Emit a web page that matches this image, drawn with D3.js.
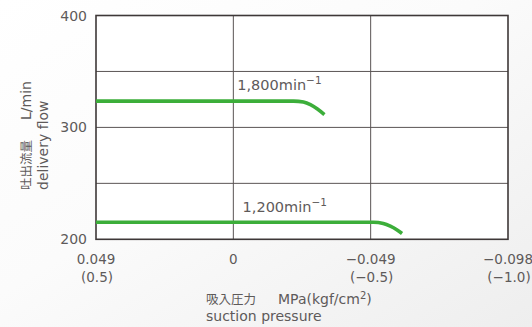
<!DOCTYPE html>
<html><head><meta charset="utf-8">
<script src="https://cdn.jsdelivr.net/npm/d3@7"></script>
<style>
html,body{margin:0;padding:0;background:#fff;}
svg{display:block;font-family:"DejaVu Sans","Noto Sans CJK JP",sans-serif;}
</style></head>
<body><svg id="c" width="532" height="327"></svg>
<script>
const xTicks = [0.049, 0, -0.049, -0.098];
const xTickLabels = ["0.049", "0", "\u22120.049", "\u22120.098"];
const xTickSub = ["(0.5)", "", "(\u22120.5)", "(\u22121.0)"];
const yTicks = [200, 300, 400];
const yGrid = [250, 350];
const series1800 = [[0.049,323.5],[-0.0215,323.5],[-0.025,322.6],[-0.0275,320.3],[-0.030,316.5],[-0.0325,311.5]];
const series1200 = [[0.049,215.3],[-0.050,215.3],[-0.0535,214.2],[-0.0560,211.8],[-0.0583,208.6],[-0.0602,205.2]];
const seriesLabels = [
  {text:"1,800min", at:[-0.0014, 333.4]},
  {text:"1,200min", at:[-0.0033, 224.1]}
];

const svg = d3.select("#c");
const defs = svg.append("defs");
const g0 = defs.append("linearGradient").attr("id","bg").attr("x1","0").attr("y1","0").attr("x2","1").attr("y2","1");
g0.append("stop").attr("offset","0").attr("stop-color","#ffffff");
g0.append("stop").attr("offset","0.45").attr("stop-color","#fbfbfb");
g0.append("stop").attr("offset","1").attr("stop-color","#eeeeee");
svg.append("rect").attr("width",532).attr("height",327).attr("fill","url(#bg)");

const L=96, R=508, T=15.5, B=239.3;
const x = d3.scaleLinear().domain([0.049,-0.098]).range([L,R]);
const y = d3.scaleLinear().domain([200,400]).range([B,T]);
const txt = "#5e5a5a";

svg.append("rect").attr("x",L).attr("y",T).attr("width",R-L).attr("height",B-T).attr("fill","#fff");

const gridColor="#5a5454";
svg.selectAll(".hg").data(yGrid.concat([300])).enter().append("line")
  .attr("x1",L).attr("x2",R).attr("y1",d=>y(d)).attr("y2",d=>y(d))
  .attr("stroke",gridColor).attr("stroke-width",1);
svg.selectAll(".vg").data([0,-0.049]).enter().append("line")
  .attr("x1",d=>x(d)).attr("x2",d=>x(d)).attr("y1",T).attr("y2",B)
  .attr("stroke",gridColor).attr("stroke-width",1);
svg.append("rect").attr("x",L).attr("y",T).attr("width",R-L).attr("height",B-T)
  .attr("fill","none").attr("stroke","#3e3838").attr("stroke-width",1.6);

// y tick labels
svg.selectAll(".yt").data(yTicks).enter().append("text")
  .attr("x",L-9).attr("y",d=>y(d)).attr("dy","0.36em").attr("text-anchor","end")
  .attr("font-size",14).attr("fill",txt).text(d=>d);

// x tick labels
const xt = svg.selectAll(".xt").data(xTicks).enter().append("g");
xt.append("text").attr("x",d=>x(d)).attr("y",264).attr("text-anchor","middle")
  .attr("font-size",13.5).attr("fill",txt).text((d,i)=>xTickLabels[i]);
xt.append("text").attr("x",d=>x(d)+1).attr("y",281.5).attr("text-anchor","middle")
  .attr("font-size",13.5).attr("fill",txt).text((d,i)=>xTickSub[i]);

// lines
const line = d3.line().x(d=>x(d[0])).y(d=>y(d[1])).curve(d3.curveMonotoneX);
[series1800, series1200].forEach(s=>{
  svg.append("path").attr("d",line(s)).attr("fill","none")
    .attr("stroke","#3cae3a").attr("stroke-width",3.6).attr("stroke-linecap","butt");
});

// series labels
seriesLabels.forEach(l=>{
  const t = svg.append("text").attr("x",x(l.at[0])).attr("y",y(l.at[1]))
    .attr("font-size",14.5).attr("fill",txt);
  t.append("tspan").text(l.text);
  t.append("tspan").attr("dy",-6).attr("font-size",10.5).text("\u22121");
});

// x axis title
const xtitle = svg.append("text").attr("x",206).attr("y",304).attr("fill",txt).attr("font-size",14);
xtitle.append("tspan").attr("font-size",12.5).text("吸入圧力");
xtitle.append("tspan").attr("x",278).text("MPa(kgf/cm");
xtitle.append("tspan").attr("dy",-5).attr("font-size",10).text("2");
xtitle.append("tspan").attr("dy",5).text(")");
svg.append("text").attr("x",206).attr("y",321).attr("fill",txt).attr("font-size",14).text("suction pressure");

// y axis title
const yt1 = svg.append("text").attr("transform","translate(31,190) rotate(-90)")
  .attr("fill",txt).attr("font-size",14).attr("text-anchor","start");
yt1.append("tspan").attr("font-size",12.5).text("吐出流量");
yt1.append("tspan").attr("dx",20).text("L/min");
svg.append("text").attr("transform","translate(48,190) rotate(-90)")
  .attr("fill",txt).attr("font-size",14).attr("text-anchor","start").text("delivery flow");
</script></body></html>
